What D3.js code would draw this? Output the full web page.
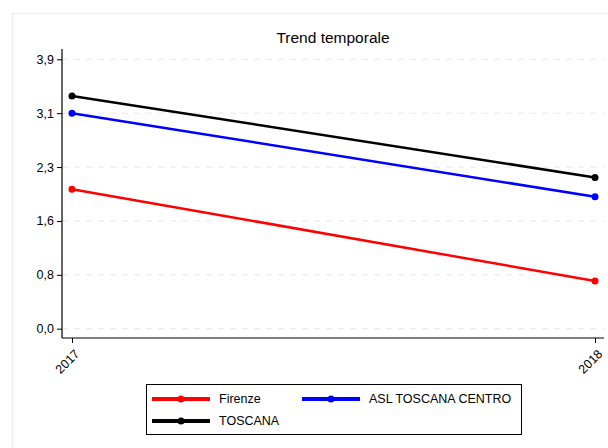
<!DOCTYPE html>
<html><head><meta charset="utf-8">
<script src="https://cdn.jsdelivr.net/npm/d3@7"></script>
<style>body{margin:0;background:#fff}svg{display:block;font-family:"Liberation Sans",Arial,sans-serif}</style>
</head><body><svg id="c" width="608" height="448"></svg>
<script>
const years = ["2017", "2018"];
const seriesNames = ["Firenze", "ASL TOSCANA CENTRO", "TOSCANA"];
const seriesColors = ["#ff0000", "#0000ff", "#000000"];
const firenze = [2.02, 0.69];
const aslToscanaCentro = [3.12, 1.91];
const toscana = [3.37, 2.19];
const yTicks = [0, 0.78, 1.56, 2.34, 3.12, 3.9];
const title = "Trend temporale";

(function(){
const values = [firenze, aslToscanaCentro, toscana];
const svg = d3.select("#c");
// outer panel
svg.append("rect").attr("x",12.5).attr("y",13.5).attr("width",620).attr("height",460)
  .attr("fill","#fff").attr("stroke","#e6eef1").attr("stroke-width",1.5);

const x = d3.scalePoint().domain(years).range([72, 595]);
const y = d3.scaleLinear().domain([0, 3.9]).range([328.7, 59.3]);
const pl = 62, pr = 604, pt = 49, pb = 338;

// gridlines
svg.append("g").selectAll("line").data(yTicks).join("line")
  .attr("x1", pl).attr("x2", pr).attr("y1", d=>y(d)).attr("y2", d=>y(d))
  .attr("stroke","#e8e8e8").attr("stroke-dasharray","6,6").attr("stroke-width",1);

// axes
const fmt = d => d3.format(".1f")(d).replace(".", ",");
const ya = svg.append("g").attr("transform",`translate(${pl},0)`)
  .call(d3.axisLeft(y).tickValues(yTicks).tickFormat(fmt).tickSize(5).tickPadding(3));
ya.select(".domain").remove();
svg.append("line").attr("x1",pl).attr("x2",pl).attr("y1",pt).attr("y2",pb).attr("stroke","#000").attr("stroke-width",1.2);
ya.selectAll("text").attr("font-size",12.5).attr("fill","#000").attr("font-family","Liberation Sans, Arial, sans-serif");

const xa = svg.append("g").attr("transform",`translate(0,${pb})`)
  .call(d3.axisBottom(x).tickSize(5).tickPadding(3));
xa.select(".domain").remove();
svg.append("line").attr("x1",pl).attr("x2",pr).attr("y1",pb).attr("y2",pb).attr("stroke","#000").attr("stroke-width",1.2);
xa.selectAll("text").attr("font-size",12.5).attr("fill","#000").attr("font-family","Liberation Sans, Arial, sans-serif")
  .attr("text-anchor","end").attr("dy","0.35em")
  .attr("transform","translate(-1,8) rotate(-45)");

// lines
const line = d3.line().x((d,i)=>x(years[i])).y(d=>y(d));
values.forEach((vals, s) => {
  svg.append("path").datum(vals).attr("d", line).attr("fill","none")
    .attr("stroke", seriesColors[s]).attr("stroke-width", 2.5);
  svg.append("g").selectAll("circle").data(vals).join("circle")
    .attr("cx",(d,i)=>x(years[i])).attr("cy",d=>y(d)).attr("r",3.5).attr("fill",seriesColors[s]);
});

// title
svg.append("text").attr("x",333).attr("y",43).attr("text-anchor","middle")
  .attr("font-size",15.5).attr("fill","#000").text(title);

// legend
const lg = svg.append("g");
lg.append("rect").attr("x",146.5).attr("y",384.5).attr("width",375).attr("height",50)
  .attr("fill","#fff").attr("stroke","#000").attr("stroke-width",1);
const pos = [[152,399],[302,399],[152,421]];
seriesNames.forEach((n,i)=>{
  const [lx,ly] = pos[i];
  lg.append("line").attr("x1",lx).attr("x2",lx+58).attr("y1",ly).attr("y2",ly)
    .attr("stroke",seriesColors[i]).attr("stroke-width",4);
  lg.append("circle").attr("cx",lx+29).attr("cy",ly).attr("r",3.5).attr("fill",seriesColors[i]);
  lg.append("text").attr("x",lx+67).attr("y",ly).attr("dy","0.35em").attr("font-size",12.5)
    .attr("fill","#000").text(n);
});
})();
</script></body></html>
